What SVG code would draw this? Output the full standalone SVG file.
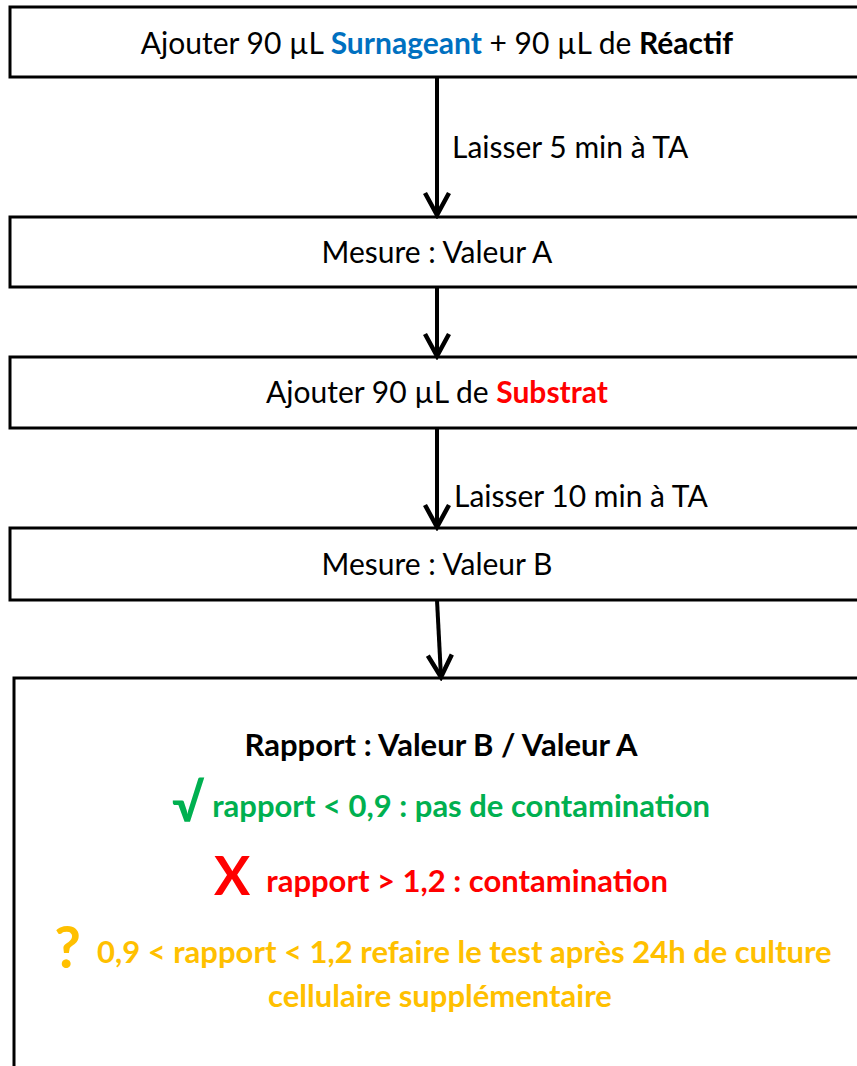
<svg xmlns="http://www.w3.org/2000/svg" width="857" height="1066" viewBox="0 0 857 1066">
  <defs>
    <style>
      .box { fill: #ffffff; stroke: #000000; stroke-width: 3; }
      .lbl { font-family: Lato, "Liberation Sans", sans-serif; font-size: 30px; fill: #000000; }
      .mid { text-anchor: middle; }
      .b { font-weight: bold; }
      .big { font-size: 31px; }
      .blue { fill: #0070C0; }
      .red { fill: #FF0000; }
      .green { fill: #00B050; }
      .amber { fill: #FFC000; }
      .wire { fill: none; stroke: #000000; stroke-width: 4; }
    </style>
    <marker id="head" viewBox="-26 -14 30 28" refX="0" refY="0" markerWidth="30" markerHeight="28" markerUnits="userSpaceOnUse" orient="auto">
      <path d="M-22,-12 L0,0 L-22,12" fill="none" stroke="#000000" stroke-width="4.5"/>
    </marker>
  </defs>

  <rect width="857" height="1066" fill="#ffffff"/>

  <g id="step-mix">
    <rect class="box" x="10" y="7" width="860" height="70"/>
    <text class="lbl mid" x="437" y="54">Ajouter 90 µL <tspan class="b blue">Surnageant</tspan> + 90 µL de <tspan class="b">Réactif</tspan></text>
  </g>

  <g id="step-measure-a">
    <rect class="box" x="10" y="217" width="860" height="70"/>
    <text class="lbl mid" x="437" y="263">Mesure : Valeur A</text>
  </g>

  <g id="step-substrate">
    <rect class="box" x="10" y="357" width="860" height="71"/>
    <text class="lbl mid" x="437" y="403">Ajouter 90 µL de <tspan class="b red">Substrat</tspan></text>
  </g>

  <g id="step-measure-b">
    <rect class="box" x="10" y="528" width="860" height="72"/>
    <text class="lbl mid" x="437" y="575">Mesure : Valeur B</text>
  </g>

  <g id="result">
    <rect class="box" x="14" y="678" width="860" height="400"/>
    <text class="lbl big mid b" x="441" y="756">Rapport : Valeur B / Valeur A</text>
    <text class="lbl big mid b green" x="441" y="817"><tspan font-size="52" dy="5">√</tspan><tspan dx="8" dy="-5">rapport &lt; 0,9 : pas de contamination</tspan></text>
    <text class="lbl big mid b red" x="441" y="892"><tspan font-size="54" dy="3">X</tspan><tspan dx="16" dy="-3">rapport &gt; 1,2 : contamination</tspan></text>
    <text class="lbl big mid b amber" x="443" y="963"><tspan font-size="58" dy="5">?</tspan><tspan dx="16" dy="-5">0,9 &lt; rapport &lt; 1,2 refaire le test après 24h de culture</tspan></text>
    <text class="lbl big mid b amber" x="440" y="1007">cellulaire supplémentaire</text>
  </g>

  <g id="connectors">
    <line class="wire" x1="437" y1="77" x2="437" y2="215" marker-end="url(#head)"/>
    <text class="lbl" x="452" y="158">Laisser 5 min à TA</text>
    <line class="wire" x1="437" y1="287" x2="437" y2="356" marker-end="url(#head)"/>
    <line class="wire" x1="437" y1="428" x2="437" y2="527" marker-end="url(#head)"/>
    <text class="lbl" x="454" y="507">Laisser 10 min à TA</text>
    <line class="wire" x1="437" y1="600" x2="441" y2="677" marker-end="url(#head)"/>
  </g>
</svg>
